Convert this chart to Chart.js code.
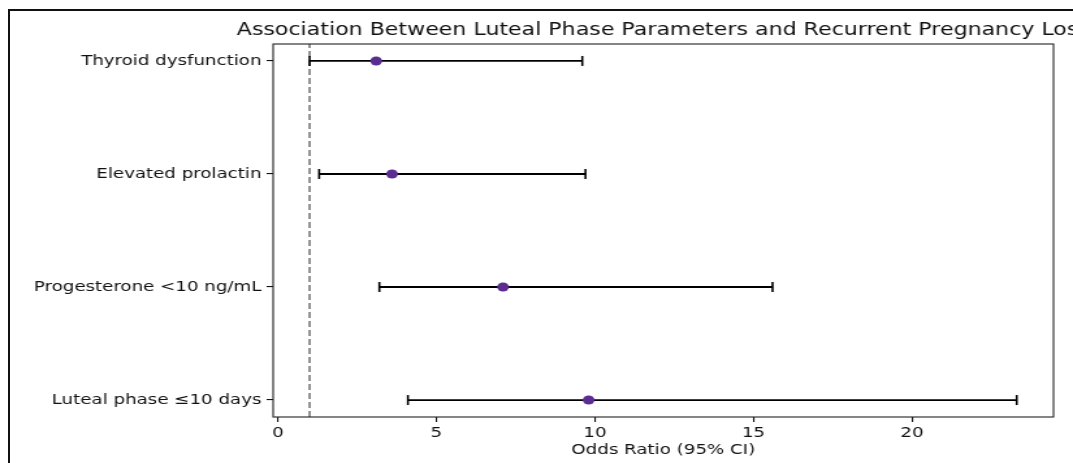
<!DOCTYPE html>
<html><head><meta charset="utf-8">
<script src="https://cdn.jsdelivr.net/npm/chart.js@4/dist/chart.umd.min.js"></script>
<style>
html,body{margin:0;padding:0;background:#fff;overflow:hidden;width:1073px;height:463px;}
#frame{position:absolute;left:8px;top:9px;width:1200px;height:600px;border:2px solid #111;box-sizing:border-box;}
#wrap{position:absolute;left:0;top:0;width:825px;height:463px;transform:scaleX(1.3006);transform-origin:0 0;}
</style></head><body>
<div id="frame"></div>
<div id="wrap"><canvas id="c" width="825" height="463"></canvas></div>
<script>
const categories = ["Thyroid dysfunction", "Elevated prolactin", "Progesterone <10 ng/mL", "Luteal phase \u226410 days"];
const oddsRatio = [3.1, 3.6, 7.1, 9.8];
const ciLower = [1.0, 1.3, 3.2, 4.1];
const ciUpper = [9.6, 9.7, 15.6, 23.3];
const xTicks = [0, 5, 10, 15, 20];
const refLine = 1;
const xRange = [-0.15, 24.46];
const yRange = [-0.15, 3.15];
const titleText = "Association Between Luteal Phase Parameters and Recurrent Pregnancy Loss";
const xTitle = "Odds Ratio (95% CI)";

const FONT = "DejaVu Sans";
const yPos = categories.map((_, i) => categories.length - 1 - i);

const datasets = [];
datasets.push({
  label: "OR", order: 0,
  data: oddsRatio.map((v, i) => ({x: v, y: yPos[i]})),
  showLine: false, pointStyle: "circle", pointRadius: 4.5,
  backgroundColor: "#5c2d91", borderColor: "#5c2d91", borderWidth: 0
});
categories.forEach((c, i) => datasets.push({
  label: c + " CI", order: 1,
  data: [{x: ciLower[i], y: yPos[i]}, {x: ciUpper[i], y: yPos[i]}],
  showLine: true, borderColor: "#000", borderWidth: 1.8,
  pointStyle: "line", rotation: 90, pointRadius: 5,
  pointBorderColor: "#000", pointBorderWidth: 1.6, pointBackgroundColor: "#000"
}));
datasets.push({
  label: "ref", order: 2,
  data: [{x: refLine, y: yRange[0]}, {x: refLine, y: yRange[1]}],
  showLine: true, borderColor: "#7a7a7a", borderWidth: 1.6, borderDash: [6, 3], pointRadius: 0
});

const framePlugin = {
  id: "frameBox",
  afterDatasetsDraw(chart) {
    const {ctx, chartArea: a} = chart;
    ctx.save();
    ctx.strokeStyle = "#222";
    ctx.lineWidth = 1.1;
    ctx.strokeRect(a.left, a.top, a.right - a.left, a.bottom - a.top);
    ctx.restore();
  }
};

const axesTitlePlugin = {
  id: "axesTitle",
  afterDraw(chart) {
    const {ctx, chartArea: a} = chart;
    ctx.save();
    ctx.fillStyle = "#111";
    ctx.font = "17px '" + FONT + "'";
    ctx.textAlign = "center";
    ctx.textBaseline = "alphabetic";
    ctx.fillText(titleText, (a.left + a.right) / 2, a.top - 9.5);
    ctx.restore();
  }
};

new Chart(document.getElementById("c"), {
  type: "scatter",
  data: {datasets},
  plugins: [framePlugin, axesTitlePlugin],
  options: {
    responsive: false, animation: false, events: [], devicePixelRatio: 1,
    layout: {padding: {left: 10, right: 15, top: 44, bottom: 0}},
    plugins: {
      legend: {display: false}, tooltip: {enabled: false}, title: {display: false}
    },
    scales: {
      x: {
        type: "linear", min: xRange[0], max: xRange[1],
        afterBuildTicks: s => { s.ticks = xTicks.map(v => ({value: v})); },
        afterFit: s => { s.height = 46; },
        border: {display: false},
        grid: {drawOnChartArea: false, drawTicks: true, tickLength: 5, color: "#111", lineWidth: 1.1},
        ticks: {font: {family: FONT, size: 14}, color: "#111", padding: 3, maxRotation: 0, autoSkip: false},
        title: {display: true, text: xTitle, color: "#111", font: {family: FONT, size: 14}, padding: {top: 2, bottom: 4.7}}
      },
      y: {
        type: "linear", min: yRange[0], max: yRange[1],
        afterBuildTicks: s => { s.ticks = yPos.slice().sort((a, b) => a - b).map(v => ({value: v})); },
        afterFit: s => { s.width = 200; },
        border: {display: false},
        grid: {drawOnChartArea: false, drawTicks: true, tickLength: 5, color: "#111", lineWidth: 1.1},
        ticks: {font: {family: FONT, size: 14}, color: "#111", padding: 4, autoSkip: false,
          callback: v => categories[categories.length - 1 - v]}
      }
    }
  }
});
</script>
</body></html>
